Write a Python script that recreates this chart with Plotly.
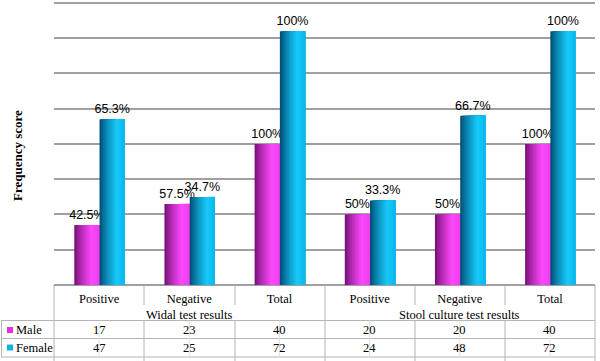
import plotly.graph_objects as go

# ---------------- data ----------------
categories = ["Positive", "Negative", "Total", "Positive", "Negative", "Total"]
groups = ["Widal test results", "Stool culture test results"]
male_counts = [17, 23, 40, 20, 20, 40]
female_counts = [47, 25, 72, 24, 48, 72]
male_labels = ["42.5%", "57.5%", "100%", "50%", "50%", "100%"]
female_labels = ["65.3%", "34.7%", "100%", "33.3%", "66.7%", "100%"]
series_names = ["Male", "Female"]
y_title = "Frequency score"

# ---------------- layout helpers ----------------
W, H = 600, 361
def px(x):
    return x / W
def py(y):
    return 1 - y / H

YMAX = 80.6
PLOT_L, PLOT_R, PLOT_B = 54, 595, 285
PLOT_T = PLOT_B - YMAX * (282 / 80)
xpos = list(range(len(categories)))

def lerp(a, b, t):
    return tuple(int(round(a[k] + (b[k] - a[k]) * t)) for k in range(3))

def shade(dark, bright, end, t):
    if t < 0.7:
        c = lerp(dark, bright, (t / 0.7) ** 0.8)
    else:
        c = lerp(bright, end, (t - 0.7) / 0.3)
    return "rgb(%d,%d,%d)" % c

fig = go.Figure()

BAR_W = 0.28
N = 14
series = [
    (male_counts, male_labels, -0.275, ((120, 18, 120), (252, 72, 252), (240, 62, 240))),
    (female_counts, female_labels, 0.005, ((0, 80, 120), (22, 202, 250), (12, 185, 238))),
]
for (vals, labs, start, (dark, bright, end)), name in zip(series, series_names):
    for i in range(N):
        t = i / (N - 1)
        off = start + BAR_W * i / N
        wid = BAR_W * (N - i) / N
        kw = {}
        if i == 0:
            kw = dict(text=labs, textposition="outside", cliponaxis=False,
                      constraintext="none",
                      outsidetextfont=dict(family="Liberation Sans", size=12.5, color="black"))
        fig.add_trace(go.Bar(
            x=xpos, y=vals, offset=[off] * len(xpos), width=[wid] * len(xpos),
            marker=dict(color=shade(dark, bright, end, t), line=dict(width=0)),
            name=name, showlegend=False, hoverinfo="skip", **kw))

fig.update_layout(
    width=W, height=H, autosize=False,
    margin=dict(l=0, r=0, t=0, b=0),
    paper_bgcolor="white", plot_bgcolor="white",
    barmode="overlay",
    xaxis=dict(domain=[px(PLOT_L), px(PLOT_R)], range=[-0.5, len(categories) - 0.5],
               tickvals=xpos, ticktext=categories, showgrid=False, zeroline=False,
               showline=False, ticks="", ticklabelstandoff=4,
               tickfont=dict(family="Liberation Serif", size=12.5, color="black")),
    yaxis=dict(domain=[py(PLOT_B), py(PLOT_T)], range=[0, YMAX], dtick=10,
               showticklabels=False, showgrid=True, gridcolor="#a0a0a0", gridwidth=1.6,
               zeroline=True, zerolinecolor="#a0a0a0", zerolinewidth=1.6, showline=False),
)

# ---------------- table / axis lines ----------------
LC = "#b4b4b4"
shapes = []
def hline(y, x0, x1, color=LC, w=1):
    shapes.append(dict(type="line", xref="paper", yref="paper", x0=px(x0), x1=px(x1),
                       y0=py(y), y1=py(y), line=dict(color=color, width=w), layer="below"))
def vline(x, y0, y1, color=LC, w=1):
    shapes.append(dict(type="line", xref="paper", yref="paper", x0=px(x), x1=px(x),
                       y0=py(y0), y1=py(y1), line=dict(color=color, width=w), layer="below"))

hline(320.5, 1, 595)
hline(338.5, 1, 595)
hline(357, 1, 595)
vline(1.5, 320.5, 357)
vline(54, 285, 361)
vline(325, 285, 361)
vline(595, 285, 361)
for xv in [144, 235, 415, 505]:
    vline(xv, 285, 305)
    vline(xv, 320.5, 361)
for k in range(len(categories)):
    cx = PLOT_L + (k + 0.5) * (PLOT_R - PLOT_L) / len(categories)
    vline(cx, 320.5, 357, color="#e2e2e2")

# legend keys
key_colors = ["#e030e0", "#10b0e8"]
row_y = [330, 347.5]
for c, yy in zip(key_colors, row_y):
    shapes.append(dict(type="rect", xref="paper", yref="paper", x0=px(7), x1=px(13),
                       y0=py(yy + 3), y1=py(yy - 3), fillcolor=c, line=dict(width=0)))
fig.update_layout(shapes=shapes)

# ---------------- annotations ----------------
serif = dict(family="Liberation Serif", size=12.5, color="black")
ann = []
for gi, g in enumerate(groups):
    ann.append(dict(text=g, xref="x", yref="paper", x=gi * 3 + 1, y=py(315),
                    showarrow=False, xanchor="center", yanchor="middle", font=serif))
for name, yy in zip(series_names, row_y):
    ann.append(dict(text=name, xref="paper", yref="paper", x=px(14), y=py(yy),
                    showarrow=False, xanchor="left", yanchor="middle", font=serif))
for vals, yy in zip([male_counts, female_counts], row_y):
    for k, v in enumerate(vals):
        ann.append(dict(text=str(v), xref="x", yref="paper", x=xpos[k], y=py(yy),
                        showarrow=False, xanchor="center", yanchor="middle", font=serif))
ann.append(dict(text="<b>%s</b>" % y_title, xref="paper", yref="paper", x=px(17), y=py(156),
                showarrow=False, textangle=-90, xanchor="center", yanchor="middle",
                font=dict(family="Liberation Serif", size=13, color="black")))
fig.update_layout(annotations=ann)

fig.write_html("out.html", config={"displayModeBar": False},
               post_script="document.body.style.margin='0';document.body.style.overflow='hidden';")
